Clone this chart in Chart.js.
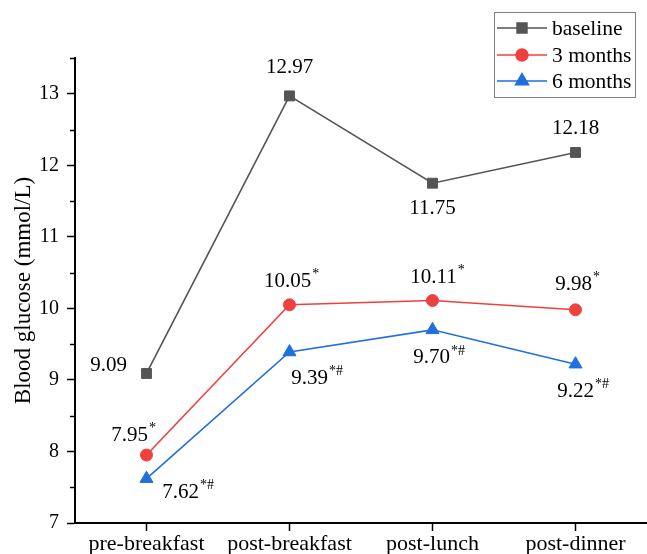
<!DOCTYPE html>
<html><head><meta charset="utf-8">
<script src="https://cdn.jsdelivr.net/npm/chart.js@4.4.1/dist/chart.umd.min.js"></script>
<style>html,body{margin:0;padding:0;background:#fff}</style>
</head><body>
<canvas id="c" width="647" height="554"></canvas>
<script>
// ---- data ----
const categories = ['pre-breakfast', 'post-breakfast', 'post-lunch', 'post-dinner'];
const seriesNames = ['baseline', '3 months', '6 months'];
const baselineValues = [9.09, 12.97, 11.75, 12.18];
const months3Values = [7.95, 10.05, 10.11, 9.98];
const months6Values = [7.62, 9.39, 9.70, 9.22];
const baselineMarks = ['', '', '', ''];
const months3Marks = ['*', '*', '*', '*'];
const months6Marks = ['*#', '*#', '*#', '*#'];
const yTickValues = [7, 8, 9, 10, 11, 12, 13];
const yAxisTitle = 'Blood glucose (mmol/L)';

// ---- styles ----
const FONT = "'Liberation Serif', 'Times New Roman', Tinos, 'DejaVu Serif', serif";
const colors = ['#555555', '#EF4040', '#1F6FDC'];
const pointStyles = ['rect', 'circle', 'triangle'];
const pointRadii = [7, 6, 7.5];
const labelOffsets = [
  [[-38, -8], [0, -28], [0, 25], [0, -24]],
  [[-17, -20], [-2, -23], [1, -23], [-2, -25]],
  [[34, 14], [20, 26], [-1, 28], [0, 27]]
];
const seriesMarks = [baselineMarks, months3Marks, months6Marks];

const labelPlugin = {
  id: 'valueLabels',
  afterDatasetsDraw(chart) {
    const ctx = chart.ctx;
    ctx.save();
    chart.data.datasets.forEach((ds, di) => {
      const meta = chart.getDatasetMeta(di);
      meta.data.forEach((el, i) => {
        const txt = ds.data[i].toFixed(2);
        const [dx, dy] = labelOffsets[di][i];
        const cx = el.x + dx, cy = el.y + dy;
        ctx.font = '21px ' + FONT;
        ctx.fillStyle = '#000';
        ctx.textAlign = 'center';
        ctx.textBaseline = 'middle';
        ctx.fillText(txt, cx, cy);
        const w = ctx.measureText(txt).width;
        const mk = seriesMarks[di][i];
        if (mk) {
          ctx.font = '14px ' + FONT;
          ctx.textAlign = 'left';
          ctx.fillText(mk, cx + w / 2 + 1, cy - 7);
        }
      });
    });
    ctx.restore();
  }
};

const axisExtras = {
  id: 'axisExtras',
  afterDraw(chart) {
    const ctx = chart.ctx;
    const y = chart.scales.y;
    const left = chart.chartArea.left;
    ctx.save();
    ctx.strokeStyle = '#000';
    ctx.lineWidth = 1.5;
    y.ticks.forEach(t => {
      if (!yTickValues.includes(t.value)) {
        const py = Math.round(y.getPixelForValue(t.value)) + 0.5;
        ctx.beginPath();
        ctx.moveTo(left - 5, py);
        ctx.lineTo(left, py);
        ctx.stroke();
      }
    });
    // legend
    const bx = 494.5, by = 12.5, bw = 141, bh = 85;
    ctx.strokeStyle = '#808080';
    ctx.lineWidth = 1;
    ctx.strokeRect(bx, by, bw, bh);
    const rows = [28, 55, 81];
    chart.data.datasets.forEach((ds, di) => {
      const ry = rows[di];
      ctx.strokeStyle = colors[di];
      ctx.lineWidth = 1.5;
      ctx.beginPath();
      ctx.moveTo(497, ry);
      ctx.lineTo(547, ry);
      ctx.stroke();
      ctx.fillStyle = colors[di];
      Chart.helpers.drawPoint(ctx, {pointStyle: pointStyles[di], radius: pointRadii[di], borderWidth: 1, rotation: 0}, 522, ry);
      ctx.fill();
      ctx.fillStyle = '#000';
      ctx.font = '21.5px ' + FONT;
      ctx.textAlign = 'left';
      ctx.textBaseline = 'middle';
      ctx.fillText(ds.label, 552, ry + 1);
    });
    ctx.restore();
  }
};

const seriesValues = [baselineValues, months3Values, months6Values];
const datasets = seriesValues.map((vals, i) => ({
  label: seriesNames[i],
  data: vals,
  borderColor: colors[i],
  backgroundColor: colors[i],
  borderWidth: 1.6,
  pointStyle: pointStyles[i],
  pointRadius: pointRadii[i],
  pointHoverRadius: pointRadii[i],
  pointBorderWidth: 1,
  pointBackgroundColor: colors[i],
  pointBorderColor: colors[i],
  tension: 0,
  clip: false
}));

function build() {
  new Chart(document.getElementById('c'), {
    type: 'line',
    data: { labels: categories, datasets },
    options: {
      responsive: false,
      animation: false,
      devicePixelRatio: 1,
      layout: { autoPadding: false, padding: { top: 58, right: 0, left: 1, bottom: 0 } },
      plugins: { legend: { display: false }, tooltip: { enabled: false } },
      scales: {
        x: {
          type: 'category',
          offset: true,
          afterFit(s) { s.height = 31; s.paddingLeft = 0; s.paddingRight = 0; },
          grid: { display: true, drawOnChartArea: false, drawTicks: true, tickLength: 8, tickWidth: 1.5, tickColor: '#000', offset: false },
          border: { display: true, color: '#000', width: 2 },
          ticks: { color: '#000', padding: 0, font: { family: FONT, size: 22 }, maxRotation: 0, autoSkip: false }
        },
        y: {
          min: 7, max: 13.5,
          afterFit(s) { s.width = 74; s.paddingTop = 0; s.paddingBottom = 0; },
          grid: { display: true, drawOnChartArea: false, drawTicks: true, tickLength: 8, tickWidth: 1.5,
            tickColor: c => (c.tick && yTickValues.includes(c.tick.value)) ? '#000' : 'rgba(0,0,0,0)' },
          border: { display: true, color: '#000', width: 2 },
          ticks: { stepSize: 0.5, color: '#000', padding: 8, autoSkip: false, font: { family: FONT, size: 20 },
            callback: v => yTickValues.includes(v) ? String(v) : '' },
          title: { display: true, text: yAxisTitle, color: '#000', font: { family: FONT, size: 23 }, padding: { top: 9, bottom: 0 } }
        }
      }
    },
    plugins: [labelPlugin, axisExtras]
  });
}
const fontLoads = [document.fonts.load("20px 'Liberation Serif'"), document.fonts.load("20px 'DejaVu Serif'")];
Promise.all(fontLoads).then(build, build);
</script>
</body></html>
